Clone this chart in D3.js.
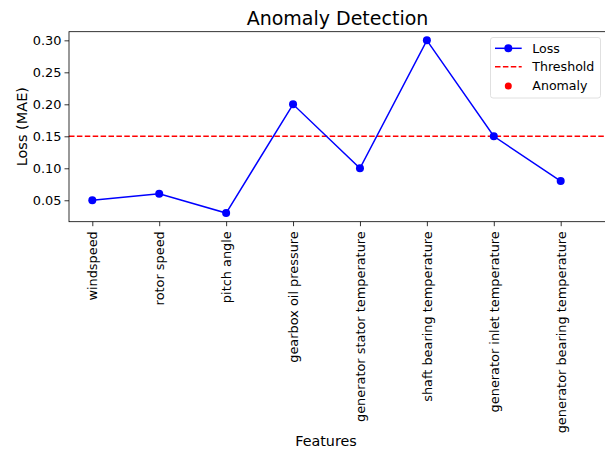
<!DOCTYPE html>
<html>
<head>
<meta charset="utf-8">
<script src="https://cdn.jsdelivr.net/npm/d3@7"></script>
<style>
  html, body { margin: 0; padding: 0; background: #fff; }
  svg { display: block; font-family: "DejaVu Sans", sans-serif; }
</style>
</head>
<body>
<svg id="chart" width="605" height="450"></svg>
<script>
// Reconstruction loss per feature
const features = [
  "windspeed",
  "rotor speed",
  "pitch angle",
  "gearbox oil pressure",
  "generator stator temperature",
  "shaft bearing temperature",
  "generator inlet temperature",
  "generator bearing temperature"
];
const losses = [0.05, 0.06, 0.03, 0.20, 0.10, 0.30, 0.15, 0.08];
const threshold = 0.15;
const yTicks = [0.05, 0.10, 0.15, 0.20, 0.25, 0.30];
const legendLabels = ["Loss", "Threshold", "Anomaly"];

const svg = d3.select("#chart");
const plot = { left: 69, right: 612, top: 31.7, bottom: 221.7 };

const x = d3.scalePoint()
  .domain(features)
  .range([92.3, 560.7])
  .padding(0);

const y = d3.scaleLinear()
  .domain([0.0165, 0.3135])
  .range([plot.bottom, plot.top]);

// Threshold line
svg.append("line")
  .attr("x1", plot.left).attr("x2", plot.right)
  .attr("y1", y(threshold)).attr("y2", y(threshold))
  .attr("stroke", "#ff0000")
  .attr("stroke-width", 1.5)
  .attr("stroke-dasharray", "5.5,2.4");

// Anomalies (losses above threshold), sitting under the loss markers
const anomalies = features
  .map((f, i) => ({ f, v: losses[i] }))
  .filter(d => d.v > threshold);
svg.append("g").selectAll("circle")
  .data(anomalies)
  .join("circle")
  .attr("cx", d => x(d.f))
  .attr("cy", d => y(d.v))
  .attr("r", 3.2)
  .attr("fill", "#ff0000");

// Loss line with markers
const line = d3.line()
  .x((d, i) => x(features[i]))
  .y(d => y(d));
svg.append("path")
  .datum(losses)
  .attr("d", line)
  .attr("fill", "none")
  .attr("stroke", "#0000ff")
  .attr("stroke-width", 1.5);
svg.append("g").selectAll("circle")
  .data(losses)
  .join("circle")
  .attr("cx", (d, i) => x(features[i]))
  .attr("cy", d => y(d))
  .attr("r", 4)
  .attr("fill", "#0000ff");

// Axes
const yAxis = d3.axisLeft(y)
  .tickValues(yTicks)
  .tickFormat(d3.format(".2f"))
  .tickSize(4.5)
  .tickPadding(3);
const gy = svg.append("g")
  .attr("transform", `translate(${plot.left},0)`)
  .call(yAxis);
gy.select(".domain").remove();
gy.selectAll("line").attr("stroke", "#000").attr("stroke-width", 0.8);
gy.selectAll("text")
  .attr("font-size", 12.9)
  .attr("fill", "#000")
  .attr("font-family", "DejaVu Sans");

const xAxis = d3.axisBottom(x)
  .tickSize(4.5)
  .tickPadding(4.5);
const gx = svg.append("g")
  .attr("transform", `translate(0,${plot.bottom})`)
  .call(xAxis);
gx.select(".domain").remove();
gx.selectAll("line").attr("stroke", "#000").attr("stroke-width", 0.8);
gx.selectAll("text")
  .attr("font-size", 12.9)
  .attr("fill", "#000")
  .attr("font-family", "DejaVu Sans")
  .attr("transform", "rotate(-90)")
  .attr("text-anchor", "end")
  .attr("dy", "0.35em")
  .attr("x", -9.5)
  .attr("y", 0);

// Frame
svg.append("rect")
  .attr("x", plot.left).attr("y", plot.top)
  .attr("width", plot.right - plot.left)
  .attr("height", plot.bottom - plot.top)
  .attr("fill", "none")
  .attr("stroke", "#000")
  .attr("stroke-width", 0.8);

// Titles
svg.append("text")
  .attr("x", 337.5).attr("y", 25)
  .attr("text-anchor", "middle")
  .attr("font-size", 19)
  .text("Anomaly Detection");
svg.append("text")
  .attr("x", 326).attr("y", 445.5)
  .attr("text-anchor", "middle")
  .attr("font-size", 14.3)
  .text("Features");
svg.append("text")
  .attr("transform", `translate(27,${(plot.top + plot.bottom) / 2}) rotate(-90)`)
  .attr("text-anchor", "middle")
  .attr("font-size", 14.5)
  .text("Loss (MAE)");

// Legend
const lg = svg.append("g");
lg.append("rect")
  .attr("x", 490.5).attr("y", 37.5)
  .attr("width", 110).attr("height", 60.5)
  .attr("rx", 2.5)
  .attr("fill", "#fff").attr("fill-opacity", 0.8)
  .attr("stroke", "#d8d8d8").attr("stroke-width", 0.8);
const rowY = [48.3, 66.7, 86];
lg.append("line")
  .attr("x1", 495).attr("x2", 521.7)
  .attr("y1", rowY[0]).attr("y2", rowY[0])
  .attr("stroke", "#0000ff").attr("stroke-width", 1.5);
lg.append("circle")
  .attr("cx", 508.3).attr("cy", rowY[0]).attr("r", 4)
  .attr("fill", "#0000ff");
lg.append("line")
  .attr("x1", 495).attr("x2", 521.7)
  .attr("y1", rowY[1]).attr("y2", rowY[1])
  .attr("stroke", "#ff0000").attr("stroke-width", 1.5)
  .attr("stroke-dasharray", "5.5,2.4");
lg.append("circle")
  .attr("cx", 508.3).attr("cy", rowY[2]).attr("r", 3.5)
  .attr("fill", "#ff0000");
lg.selectAll("text.lab")
  .data(legendLabels)
  .join("text")
  .attr("class", "lab")
  .attr("x", 532.3)
  .attr("y", (d, i) => rowY[i])
  .attr("dy", "0.35em")
  .attr("font-size", 12.6)
  .text(d => d);
</script>
</body>
</html>
